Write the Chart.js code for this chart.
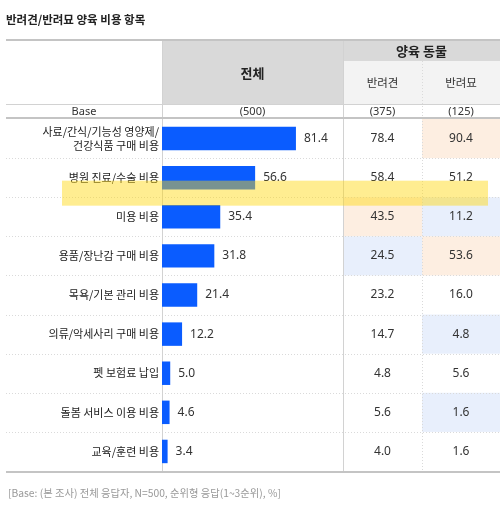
<!DOCTYPE html>
<html>
<head>
<meta charset="utf-8">
<script src="https://cdn.jsdelivr.net/npm/chart.js@4"></script>
<style>
  html, body { margin: 0; padding: 0; background: #fff; }
  #wrap { width: 500px; height: 508px; }
</style>
</head>
<body>
<div id="wrap"><canvas id="costChart" width="500" height="508"></canvas></div>
<script>
const chartTitle = "반려견/반려묘 양육 비용 항목";
const footNote = "[Base: (본 조사) 전체 응답자, N=500, 순위형 응답(1~3순위), %]";
const categories = [
  ["사료/간식/기능성 영양제/", "건강식품 구매 비용"],
  "병원 진료/수술 비용",
  "미용 비용",
  "용품/장난감 구매 비용",
  "목욕/기본 관리 비용",
  "의류/악세사리 구매 비용",
  "펫 보험료 납입",
  "돌봄 서비스 이용 비용",
  "교육/훈련 비용",
];
const totalValues = [81.4, 56.6, 35.4, 31.8, 21.4, 12.2, 5.0, 4.6, 3.4];
const dogValues = [78.4, 58.4, 43.5, 24.5, 23.2, 14.7, 4.8, 5.6, 4.0];
const catValues = [90.4, 51.2, 11.2, 53.6, 16.0, 4.8, 5.6, 1.6, 1.6];
// cell marks: "hi" = higher than total, "lo" = lower
const dogMarks = ["", "", "hi", "lo", "", "", "", "", ""];
const catMarks = ["hi", "", "lo", "hi", "", "lo", "", "lo", ""];
const baseLabel = "Base";
const baseCounts = ["(500)", "(375)", "(125)"];
const groupHeader = "양육 동물";
const columnHeaders = ["전체", "반려견", "반려묘"];

const KR = "'Noto Sans CJK KR', 'Noto Sans', sans-serif";
const NUM = "'Noto Sans', 'Noto Sans CJK KR', sans-serif";
const markColor = { hi: "#fdeee1", lo: "#e8effc" };

function text(ctx, str, x, y, font, color, align) {
  ctx.font = font;
  ctx.fillStyle = color;
  ctx.textAlign = align || "center";
  ctx.textBaseline = "middle";
  ctx.fillText(str, x, y);
}

const tablePlugin = {
  id: "tablePlugin",
  beforeDraw(chart) {
    const ctx = chart.ctx;
    const area = chart.chartArea;
    const y = chart.scales.y;
    const left = 6, right = 500;
    const colA = area.left, colB = area.right, colC = 422;
    const half = (y.getPixelForValue(1) - y.getPixelForValue(0)) / 2;
    ctx.save();
    // header blocks
    ctx.fillStyle = "#d9d9d9";
    ctx.fillRect(colA, 41, colB - colA, 63);
    ctx.fillRect(colB, 41, right - colB, 20);
    ctx.fillStyle = "#f3f3f3";
    ctx.fillRect(colB, 61, right - colB, 43);
    // highlighted cells
    categories.forEach((c, i) => {
      const yc = y.getPixelForValue(i);
      if (dogMarks[i]) {
        ctx.fillStyle = markColor[dogMarks[i]];
        ctx.fillRect(colB, yc - half, colC - colB, half * 2);
      }
      if (catMarks[i]) {
        ctx.fillStyle = markColor[catMarks[i]];
        ctx.fillRect(colC, yc - half, right - colC, half * 2);
      }
    });
    // dotted row separators
    ctx.strokeStyle = "#dadada";
    ctx.lineWidth = 1;
    ctx.setLineDash([1, 2]);
    for (let i = 1; i < categories.length; i++) {
      const yy = Math.round(y.getPixelForValue(i) - half) + 0.5;
      ctx.beginPath();
      ctx.moveTo(left, yy);
      ctx.lineTo(right, yy);
      ctx.stroke();
    }
    ctx.beginPath();
    ctx.moveTo(colC + 0.5, 61);
    ctx.lineTo(colC + 0.5, area.bottom);
    ctx.stroke();
    ctx.setLineDash([]);
    // solid lines
    ctx.strokeStyle = "#d2d2d2";
    ctx.beginPath();
    ctx.moveTo(colA + 0.5, 41);
    ctx.lineTo(colA + 0.5, area.bottom);
    ctx.moveTo(colB + 0.5, 41);
    ctx.lineTo(colB + 0.5, area.bottom);
    ctx.moveTo(left, 104.5);
    ctx.lineTo(right, 104.5);
    ctx.stroke();
    ctx.strokeStyle = "#c4c4c4";
    ctx.lineWidth = 2;
    ctx.beginPath();
    ctx.moveTo(left, 40);
    ctx.lineTo(right, 40);
    ctx.moveTo(left, 118);
    ctx.lineTo(right, 118);
    ctx.moveTo(left, area.bottom + 1);
    ctx.lineTo(right, area.bottom + 1);
    ctx.stroke();
    ctx.restore();
  },
  afterDatasetsDraw(chart) {
    const ctx = chart.ctx;
    const area = chart.chartArea;
    const x = chart.scales.x;
    const y = chart.scales.y;
    const colB = area.right, colC = 422, right = 500;
    const dogX = (colB + colC) / 2, catX = (colC + right) / 2;
    ctx.save();
    text(ctx, chartTitle, 6, 20, "bold 11.5px " + KR, "#222", "left");
    text(ctx, columnHeaders[0], (area.left + colB) / 2, 73, "bold 13px " + KR, "#222");
    text(ctx, groupHeader, (colB + right) / 2, 51, "bold 13px " + KR, "#222");
    text(ctx, columnHeaders[1], dogX, 83, "11.5px " + KR, "#333");
    text(ctx, columnHeaders[2], catX, 83, "11.5px " + KR, "#333");
    text(ctx, baseLabel, (6 + area.left) / 2, 111.5, "11px " + NUM, "#333");
    text(ctx, baseCounts[0], (area.left + colB) / 2, 111.5, "11px " + NUM, "#333");
    text(ctx, baseCounts[1], dogX, 111.5, "11px " + NUM, "#333");
    text(ctx, baseCounts[2], catX, 111.5, "11px " + NUM, "#333");
    categories.forEach((c, i) => {
      const yc = y.getPixelForValue(i);
      text(ctx, totalValues[i].toFixed(1), x.getPixelForValue(totalValues[i]) + 8, yc, "12px " + NUM, "#333", "left");
      text(ctx, dogValues[i].toFixed(1), dogX, yc, "12px " + NUM, "#333");
      text(ctx, catValues[i].toFixed(1), catX, yc, "12px " + NUM, "#333");
    });
    text(ctx, footNote, 8, 493, "10.3px " + KR, "#999", "left");
    ctx.restore();
  },
  afterDraw(chart) {
    // yellow highlighter stroke across the second row
    const ctx = chart.ctx;
    const y = chart.scales.y;
    const yc = y.getPixelForValue(1);
    ctx.save();
    ctx.fillStyle = "rgba(255, 214, 10, 0.45)";
    ctx.fillRect(62, yc + 3, 426, 25);
    ctx.restore();
  },
};

let ctx = document.getElementById("costChart");

let costChart = new Chart(ctx, {
  type: "bar",
  data: {
    labels: categories,
    datasets: [
      {
        label: columnHeaders[0],
        data: totalValues,
        backgroundColor: "#0a5cff",
        borderWidth: 0,
        barPercentage: 0.6,
        categoryPercentage: 1,
      },
    ],
  },
  options: {
    indexAxis: "y",
    responsive: false,
    animation: false,
    layout: {
      padding: { left: 0, top: 119, right: 157, bottom: 37 },
    },
    plugins: {
      legend: { display: false },
      tooltip: { enabled: false },
    },
    scales: {
      x: {
        display: false,
        min: 0,
        max: 110,
      },
      y: {
        afterFit(scale) {
          scale.width = 162;
        },
        grid: { display: false, drawTicks: false },
        border: { display: false },
        ticks: {
          padding: 3,
          color: "#222",
          font: { family: KR, size: 11, lineHeight: 1.25 },
        },
      },
    },
  },
  plugins: [tablePlugin],
});
</script>
</body>
</html>
